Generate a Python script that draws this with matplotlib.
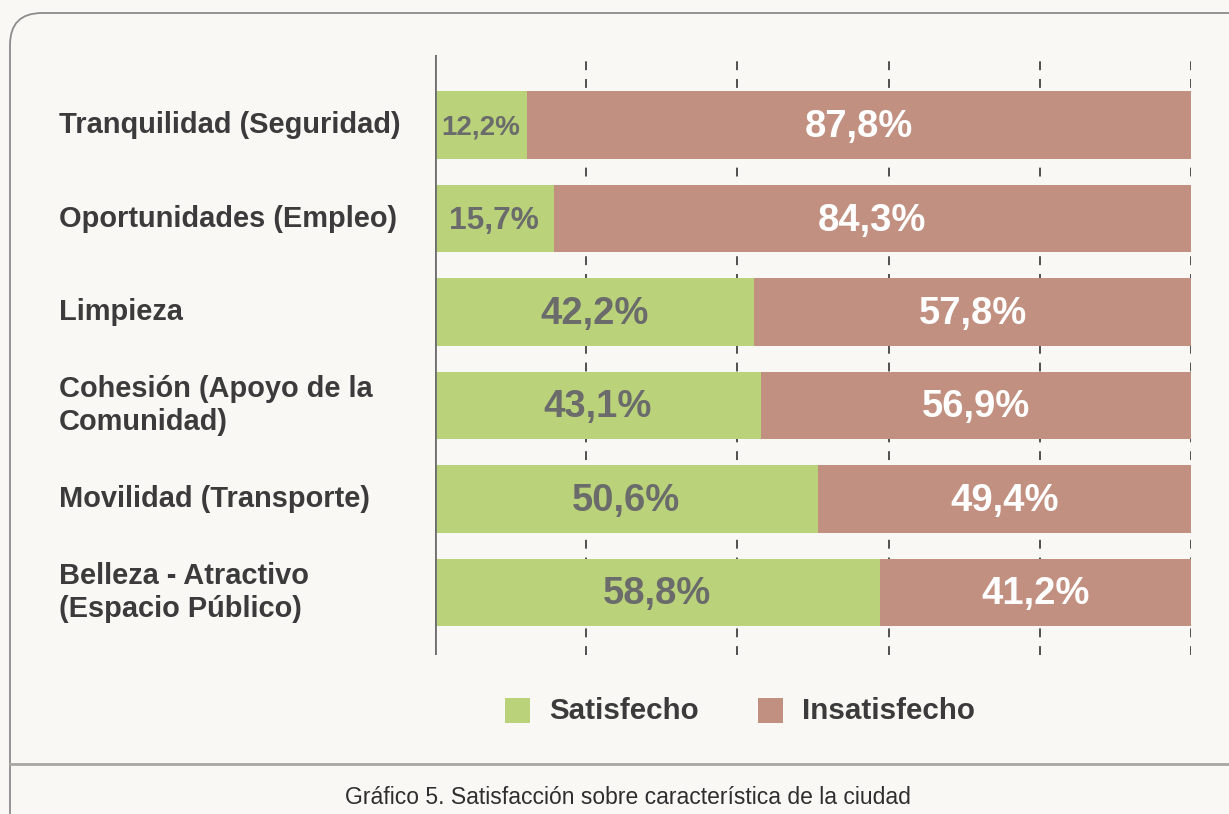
import matplotlib
matplotlib.use("Agg")
import matplotlib.pyplot as plt
from matplotlib.patches import FancyBboxPatch, Rectangle
from matplotlib.transforms import offset_copy

categories = ["Tranquilidad (Seguridad)", "Oportunidades (Empleo)", "Limpieza",
              "Cohesión (Apoyo de la\nComunidad)", "Movilidad (Transporte)",
              "Belleza - Atractivo\n(Espacio Público)"]
satisfecho = [12.2, 15.7, 42.2, 43.1, 50.6, 58.8]
insatisfecho = [87.8, 84.3, 57.8, 56.9, 49.4, 41.2]
series_names = ["Satisfecho", "Insatisfecho"]
xticks = [0, 20, 40, 60, 80, 100]
caption = "Gráfico 5. Satisfacción sobre característica de la ciudad"

BG = "#F9F8F4"
GREEN = "#BAD37A"
BROWN = "#C29080"
DARK = "#3B3B3B"
VALGRAY = "#6B6B6B"

plt.rcParams['font.family'] = ['Liberation Sans', 'DejaVu Sans']

W, H = 1229, 814
fig = plt.figure(figsize=(W / 100, H / 100), dpi=100, facecolor=BG)

# background axes in pixel coordinates
bg = fig.add_axes([0, 0, 1, 1])
bg.set_xlim(0, W)
bg.set_ylim(H, 0)
bg.axis("off")
frame = FancyBboxPatch((10, 13), 1300, 900, boxstyle="round,pad=0,rounding_size=32",
                       facecolor=BG, edgecolor="#8C8C8C", linewidth=1.3)
bg.add_patch(frame)
bg.plot([10, W], [764, 764], color="#A8A8A2", lw=2)
bg.text(628, 797, caption, ha="center", va="center", fontsize=16.5, color="#2E2E2E")

# legend
for (x0, name, col) in [(505, series_names[0], GREEN), (758, series_names[1], BROWN)]:
    bg.add_patch(Rectangle((x0, 698), 25, 25, facecolor=col, edgecolor="none"))
    bg.text(x0 + 44, 711, name, ha="left", va="center", fontsize=21.3,
            fontweight="bold", color=DARK)

# main axes
left, right, top, bottom = 435, 1191, 55, 655
ax = fig.add_axes([left / W, (H - bottom) / H, (right - left) / W, (bottom - top) / H])
ax.set_facecolor("none")
ax.set_xlim(0, 100)
ax.set_ylim(5.67, -0.75)
for s in ax.spines.values():
    s.set_visible(False)
ax.set_xticks([])
ax.set_yticks([])

for xt in xticks[1:]:
    ax.axvline(xt, color="#222222", lw=1.1, linestyle=(0, (5.8, 5.8)), zorder=0)
ax.axvline(0, color="#6E6E6E", lw=2, zorder=3)

ypos = list(range(len(categories)))
h = 0.72
ax.barh(ypos, satisfecho, height=h, color=GREEN, zorder=2)
ax.barh(ypos, insatisfecho, left=satisfecho, height=h, color=BROWN, zorder=2)

vtrans = offset_copy(ax.transData, fig=fig, x=0, y=-2, units="dots")
for y, s, i in zip(ypos, satisfecho, insatisfecho):
    fs = 27.5 if s > 30 else (22.8 if s > 14 else 20)
    ax.text(s / 2, y, f"{s:.1f}%".replace(".", ","), ha="center", va="center",
            fontsize=fs, fontweight="bold", color=VALGRAY, zorder=4, transform=vtrans)
    ax.text(s + i / 2, y, f"{i:.1f}%".replace(".", ","), ha="center", va="center",
            fontsize=27.5, fontweight="bold", color="white", zorder=4, transform=vtrans)

# category labels
for y, c in zip(ypos, categories):
    ax.text(-376 / (right - left) * 100, y, c, ha="left", va="center",
            fontsize=20.9, fontweight="bold", color=DARK, linespacing=1.22,
            clip_on=False)

fig.savefig("out.png", dpi=100, facecolor=BG)
